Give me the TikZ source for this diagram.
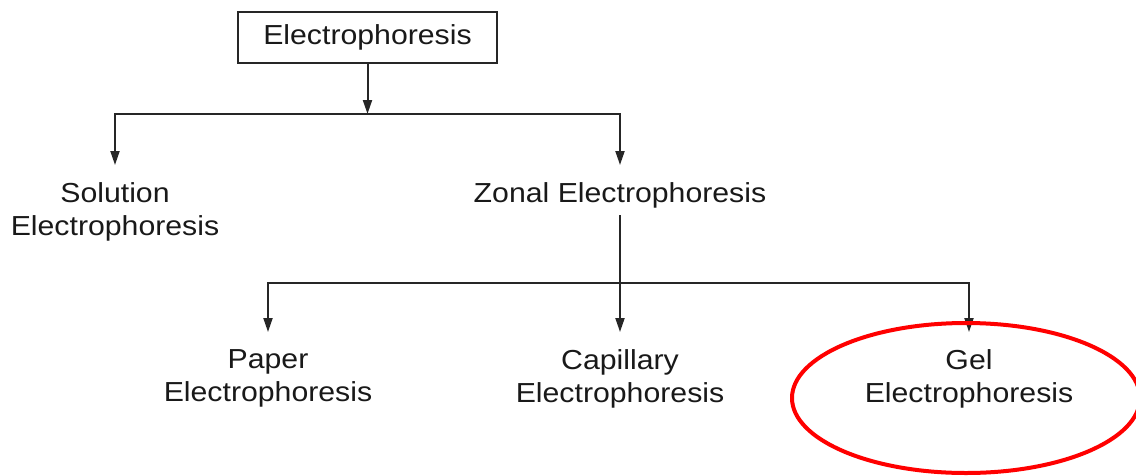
\documentclass[tikz,border=0pt]{standalone}
\usepackage{fontspec}
\setmainfont{Liberation Sans}[FakeStretch=1.1]
\usetikzlibrary{arrows.meta}
\begin{document}
\begin{tikzpicture}[x=1pt,y=-1pt,
  txt/.style={font=\fontsize{27.5}{33}\selectfont, text=black!90},
  lbl/.style={txt, align=center, inner xsep=0pt, inner ysep=17pt, anchor=north},
  conn/.style={line width=2pt, draw=black!85},
  arr/.style={conn, -{Triangle[length=14pt,width=9pt]}}]
\useasboundingbox (0,0) rectangle (1136,475);
\clip (0,0) rectangle (1136,475);
\node[txt, draw=black!85, line width=2pt, minimum width=259pt, minimum height=51pt, inner sep=0pt] (root) at (367.5,37.5) {Electrophoresis};
\node[lbl] (sol) at (115,165) {Solution\\Electrophoresis};
\node[lbl] (zon) at (620,165) {Zonal Electrophoresis};
\node[lbl] (pap) at (268,332) {Paper\\Electrophoresis};
\node[lbl] (cap) at (620,332) {Capillary\\Electrophoresis};
\node[lbl] (gel) at (969,332) {Gel\\Electrophoresis};
\coordinate (j1) at (367.5,114);
\coordinate (j2) at (620,283);
\draw[arr] (root.south) -- (j1);
\draw[arr] (j1) -| (sol.north);
\draw[arr] (j1) -| (zon.north);
\draw[arr] ([yshift=10pt]zon.south) -- (cap.north);
\draw[arr] (j2) -| (pap.north);
\draw[arr] (j2) -| (gel.north);
\draw[red, line width=4pt] (966,398) ellipse [x radius=174pt, y radius=75pt];
\end{tikzpicture}
\end{document}
